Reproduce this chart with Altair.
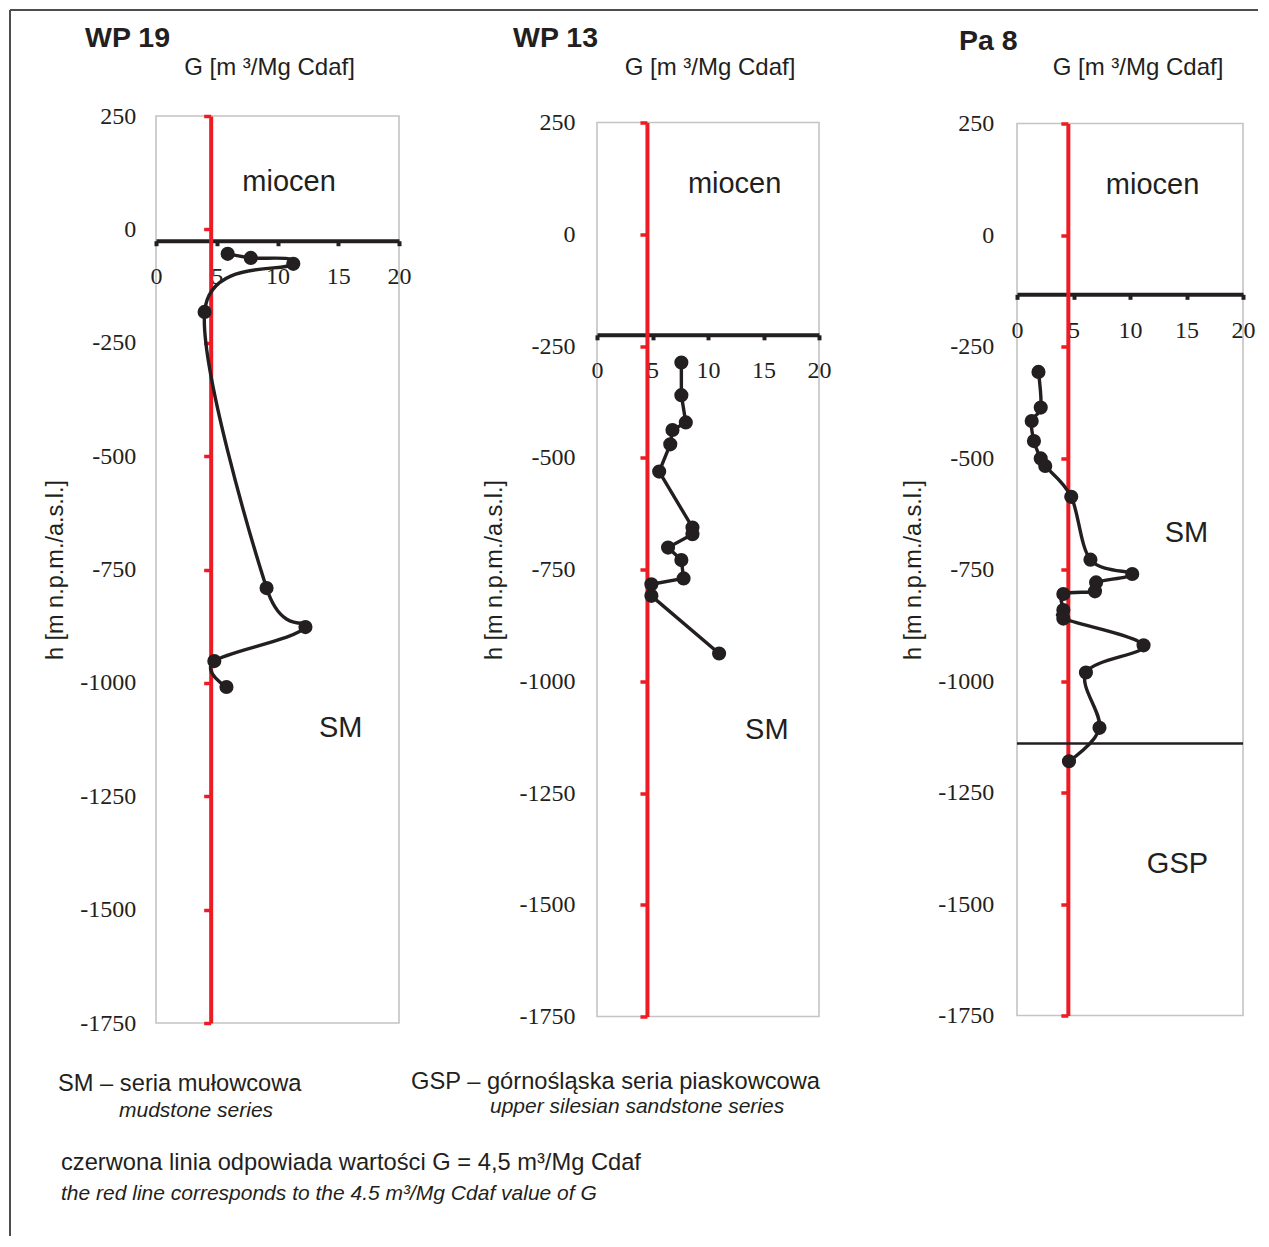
import altair as alt
import pandas as pd

# ---------------- data ----------------
# WP 19
wp19_g = [5.9, 7.8, 11.3, 4.0, 9.1, 12.3, 4.8, 5.8]
wp19_h = [-54, -63, -76, -182, -791, -877, -952, -1009]
# WP 13
wp13_g = [7.6, 7.6, 8.0, 6.8, 6.6, 5.6, 8.6, 8.6, 6.4, 7.6, 7.8, 4.9, 4.9, 11.0]
wp13_h = [-287, -360, -421, -438, -470, -531, -656, -671, -701, -729, -770, -783, -809, -938]
# Pa 8
pa8_g = [1.9, 2.1, 1.3, 1.5, 2.1, 2.5, 4.8, 6.5, 10.2, 7.0, 6.9, 4.1, 4.1, 4.1, 11.2, 6.1, 7.3, 4.6]
pa8_h = [-307, -387, -417, -462, -501, -518, -587, -728, -760, -779, -799, -805, -841, -860, -920, -981, -1105, -1180]

panel_names = ["WP 19", "WP 13", "Pa 8"]
x_ticks = [0, 5, 10, 15, 20]
y_ticks = [-1750, -1500, -1250, -1000, -750, -500, -250, 0, 250]
miocen_base_h = [-25, -225, -133]      # level where the G axis crosses (base of the Miocene)
gsp_top_h = -1140                     # SM / GSP boundary in Pa 8
g_threshold = 4.5                     # red line

region_labels = [
    [("miocen", 10.95, 104), ("SM", 15.2, -1100)],
    [("miocen", 12.4, 113), ("SM", 15.3, -1110)],
    [("miocen", 12.0, 113), ("SM", 15.0, -669), ("GSP", 14.2, -1411)],
]

x_title = "G [m \u00b3/Mg Cdaf]"
y_title = "h [m n.p.m./a.s.l.]"
note_sm = "SM \u2013 seria mu\u0142owcowa"
note_sm_en = "mudstone series"
note_gsp = "GSP \u2013 g\u00f3rno\u015bl\u0105ska seria piaskowcowa"
note_gsp_en = "upper silesian sandstone series"
note_red = "czerwona linia odpowiada warto\u015bci G = 4,5 m\u00b3/Mg Cdaf"
note_red_en = "the red line corresponds to the 4.5 m\u00b3/Mg Cdaf value of G"

# ---------------- styling ----------------
RED = "#ed1c24"
INK = "#231f20"
SANS = "Liberation Sans"
SERIF = "Liberation Serif"

widths = [243, 222, 226]
heights = [907, 894, 892]
label_pads = [68, 65, 67]
interps = ["cardinal", "linear", "cardinal"]
series = [(wp19_g, wp19_h), (wp13_g, wp13_h), (pa8_g, pa8_h)]

# plot-relative positions of panel headers
header_pos = [(-71, -78), (-84, -84.5), (-58, -82.5)]
gtitle_pos = [(113.5, -48), (113, -54.5), (121, -55.5)]


def one_row(**kw):
    return pd.DataFrame({k: [v] for k, v in kw.items()})


def text_layer(rows, font, size, weight="normal", style="normal", align="left"):
    df = pd.DataFrame(rows, columns=["t", "px", "py"])
    return alt.Chart(df).mark_text(
        font=font, fontSize=size, fontWeight=weight, fontStyle=style,
        align=align, baseline="middle", color=INK
    ).encode(
        x=alt.X("px:Q", scale=None),
        y=alt.Y("py:Q", scale=None),
        text="t:N",
    )


def panel(k):
    w, hgt = widths[k], heights[k]
    g, h = series[k]
    df = pd.DataFrame({"G": g, "h": h, "i": list(range(len(g)))})
    xs = alt.Scale(domain=[0, 20], nice=False, zero=False)
    ys = alt.Scale(domain=[-1750, 250], nice=False, zero=False)
    cross_px = (250 - miocen_base_h[k]) / 2000 * hgt
    red_px = g_threshold / 20 * w

    x_axis = alt.Axis(
        values=x_ticks, orient="bottom", offset=-(hgt - cross_px),
        domainColor=INK, domainWidth=4, tickColor=INK, tickWidth=4, tickSize=5,
        labelPadding=19, labelFont=SERIF, labelFontSize=24, labelColor=INK,
        labelFlush=False, grid=False, title=None,
    )
    y_axis = alt.Axis(
        values=y_ticks, orient="left", offset=-red_px,
        domainColor=RED, domainWidth=4, tickColor=RED, tickWidth=3.5, tickSize=7,
        labelPadding=label_pads[k], labelFont=SERIF, labelFontSize=24, labelColor=INK,
        labelExpr="datum.value + ''", labelFlush=False, grid=False,
        title=y_title, titleFont=SANS, titleFontSize=23.5, titleFontWeight="normal",
        titleColor=INK, titlePadding=12,
    )
    X = alt.X("G:Q", scale=xs, axis=x_axis)
    Y = alt.Y("h:Q", scale=ys, axis=y_axis)

    if interps[k] == "cardinal":
        line_mark = alt.Chart(df).mark_line(color=INK, strokeWidth=3.4, interpolate="cardinal", tension=0)
    else:
        line_mark = alt.Chart(df).mark_line(color=INK, strokeWidth=3.4, interpolate="linear")
    line = line_mark.encode(x=X, y=Y, order=alt.Order("i:Q"))
    pts = alt.Chart(df).mark_circle(size=200, color=INK, opacity=1).encode(x=X, y=Y)

    lab = pd.DataFrame(region_labels[k], columns=["t", "G", "h"])
    labels = alt.Chart(lab).mark_text(font=SANS, fontSize=29, color=INK, align="center",
                                      baseline="middle").encode(x=X, y=Y, text="t:N")

    layers = [line, pts, labels]

    if k == 2:
        bd = pd.DataFrame({"G": [0], "G2": [20], "h": [gsp_top_h]})
        layers.append(alt.Chart(bd).mark_rule(color=INK, strokeWidth=2.5).encode(
            x=X, x2="G2:Q", y=Y))

    hx, hy = header_pos[k]
    gx, gy = gtitle_pos[k]
    layers.append(text_layer([(panel_names[k], hx, hy)], SANS, 28.5, weight="bold"))
    layers.append(text_layer([(x_title, gx, gy)], SANS, 24, align="center"))

    if k == 0:
        frame = one_row(a=0)
        layers.append(alt.Chart(frame).mark_rule(color="#4d4d4d", strokeWidth=2).encode(
            x=alt.value(-146), y=alt.value(-106), y2=alt.value(1120)))
        layers.append(alt.Chart(frame).mark_rule(color="#4d4d4d", strokeWidth=2).encode(
            x=alt.value(-146), x2=alt.value(1102), y=alt.value(-106)))
        layers.append(text_layer([(note_sm, -98, 968), (note_gsp, 255, 966),
                                  (note_red, -95, 1047)], SANS, 23.7))
        layers.append(text_layer([(note_sm_en, -37, 995), (note_gsp_en, 334, 991),
                                  (note_red_en, -95, 1078)], SANS, 21, style="italic"))

    return alt.layer(*layers).properties(width=w, height=hgt)


chart = alt.hconcat(panel(0), panel(1), panel(2), spacing=198, bounds="flush", center=True).properties(
    padding=0
).configure(font=SANS).configure_view(stroke="#c4c4c4", strokeWidth=1.6)

chart.save("out.html", embed_options={"renderer": "svg", "actions": False})
